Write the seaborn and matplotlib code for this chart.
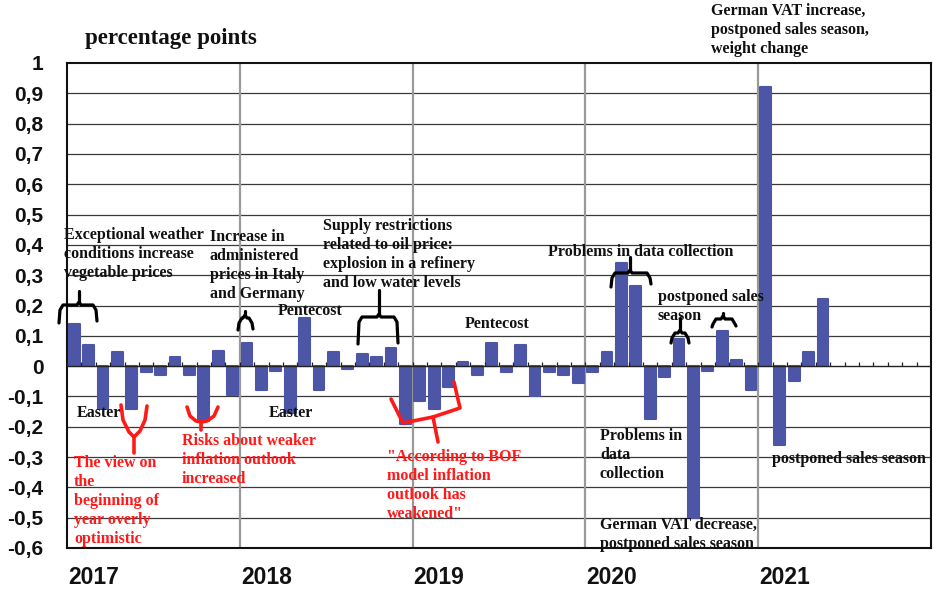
import numpy as np
import pandas as pd
import matplotlib
matplotlib.use("Agg")
import matplotlib.pyplot as plt
from matplotlib.lines import Line2D
import seaborn as sns

# ---------------- data ----------------
years = ["2017", "2018", "2019", "2020", "2021"]
values_2017 = [0.14, 0.07, -0.14, 0.045, -0.14, -0.02, -0.03, 0.03, -0.03, -0.18, 0.05, -0.095]
values_2018 = [0.075, -0.08, -0.015, -0.155, 0.16, -0.08, 0.045, -0.01, 0.04, 0.03, 0.06, -0.19]
values_2019 = [-0.115, -0.14, -0.07, 0.015, -0.03, 0.075, -0.02, 0.07, -0.10, -0.02, -0.03, -0.055]
values_2020 = [-0.02, 0.045, 0.34, 0.265, -0.175, -0.035, 0.09, -0.50, -0.015, 0.115, 0.02, -0.08]
values_2021 = [0.92, -0.26, -0.05, 0.045, 0.22]
y_ticks = [1, 0.9, 0.8, 0.7, 0.6, 0.5, 0.4, 0.3, 0.2, 0.1, 0, -0.1, -0.2, -0.3, -0.4, -0.5, -0.6]
y_tick_labels = ["1", "0,9", "0,8", "0,7", "0,6", "0,5", "0,4", "0,3", "0,2", "0,1", "0",
                 "-0,1", "-0,2", "-0,3", "-0,4", "-0,5", "-0,6"]

values = values_2017 + values_2018 + values_2019 + values_2020 + values_2021
months = [f"{y}-{m:02d}" for y in years for m in range(1, 13)][:len(values)]
df = pd.DataFrame({"month": months, "value": values})
n_slots = 12 * len(years)

# ---------------- figure ----------------
sns.set_theme(style="white")
plt.rcParams["font.family"] = ["Liberation Sans", "DejaVu Sans"]

W, H = 933, 592
fig = plt.figure(figsize=(W / 100, H / 100), dpi=100)
L, R, T, B = 67, 931, 63, 548
ax = fig.add_axes([L / W, 1 - B / H, (R - L) / W, (B - T) / H])

bar_color = "#4C55A6"
sns.barplot(data=df, x="month", y="value", order=months, color=bar_color,
            width=0.76, saturation=1, ax=ax, zorder=3)
for p in ax.patches:
    p.set_edgecolor(bar_color)
    p.set_linewidth(1.5)
    p.set_joinstyle("round")

ax.set_xlim(-0.5, n_slots - 0.5)
ax.set_ylim(-0.6, 1.0)

# horizontal grid
for v in y_ticks:
    if v not in (1, -0.6, 0):
        ax.axhline(v, color="#3a3a3a", lw=0.9, zorder=1)
# vertical year separators
for k in range(1, len(years)):
    ax.axvline(12 * k - 0.5, color="#9a9a9a", lw=1.6, zorder=1)
# zero line with month ticks
ax.axhline(0, color="#222222", lw=1.0, zorder=4)
ax.vlines(np.arange(n_slots + 1) - 0.5, 0, 0.013, color="#222222", lw=0.9, zorder=4)

ax.set_yticks(y_ticks)
ax.set_yticklabels(y_tick_labels, fontsize=15, fontweight="bold", color="#111111")
ax.tick_params(axis="y", length=0, pad=17)
ax.set_xticks([])
ax.set_xlabel("")
ax.set_ylabel("")
for s in ax.spines.values():
    s.set_visible(True)
    s.set_color("#111111")
    s.set_linewidth(1.5)

# helpers for annotation placement in reference pixel coordinates
def ptext(x, y, s, color="#111111", size=11.5, weight="bold", va="top", ha="left", family=None):
    fam = family or ["Liberation Serif", "DejaVu Serif"]
    fig.text(x / W, 1 - y / H, s, color=color, fontsize=size, fontweight=weight,
             va=va, ha=ha, family=fam, linespacing=1.24)

def pline(pts, color="black", lw=2.3):
    xs = [p[0] / W for p in pts]
    ys = [1 - p[1] / H for p in pts]
    fig.add_artist(Line2D(xs, ys, color=color, lw=lw, transform=fig.transFigure,
                          solid_capstyle="round", solid_joinstyle="round", zorder=10))

def brace(x0, x1, yline, yl, yr, xn, yn, color="black", lw=2.3):
    pts = [(x0, yl), (x0 + 1, yline + 5), (x0 + 4, yline), (xn - 2, yline),
           (xn, yline - 3), (xn + 2, yline), (x1 - 4, yline), (x1 - 1, yline + 5), (x1, yr)]
    pline(pts, color, lw)
    pline([(xn, yline - 3), (xn, yn)], color, lw)

# year labels
for k, yr in enumerate(years):
    xp = L + k * (R - L) / len(years) + 1
    fig.text(xp / W, 1 - 577 / H, yr, fontsize=16.5, fontweight="bold",
             va="center", ha="left", color="#111111")

# title
ptext(85, 28, "percentage points", size=16.5)

# black annotations
ptext(64, 227, "Exceptional weather\nconditions increase\nvegetable prices")
ptext(210, 229, "Increase in\nadministered\nprices in Italy\nand Germany", weight="semibold")
ptext(278, 303, "Pentecost")
ptext(77, 405, "Easter")
ptext(269, 405, "Easter")
ptext(323, 218, "Supply restrictions\nrelated to oil price:\nexplosion in a refinery\nand low water levels")
ptext(465, 316, "Pentecost")
ptext(548, 244, "Problems in data collection")
ptext(658, 289, "postponed sales\nseason")
ptext(711, 3, "German VAT increase,\npostponed sales season,\nweight change")
ptext(600, 428, "Problems in\ndata\ncollection")
ptext(600, 517, "German VAT decrease,\npostponed sales season")
ptext(772, 451, "postponed sales season")

# red annotations
red = "#FF1A1A"
ptext(74, 455, "The view on\nthe\nbeginning of\nyear overly\noptimistic", color=red)
ptext(182, 433, "Risks about weaker\ninflation outlook\nincreased", color=red)
ptext(387, 449, "\"According to BOF\nmodel inflation\noutlook has\nweakened\"", color=red)

# black braces
brace(59, 97, 305, 323, 321, 79, 291)
brace(238, 253, 318, 330, 329, 245, 311)
brace(358, 398, 317, 344, 343, 379, 290)
brace(611, 651, 273, 287, 284, 630, 257)
brace(671, 689, 333, 343, 343, 680, 318)
brace(712, 736, 319, 327, 326, 723, 313)

# red braces
pline([(121, 405), (123, 420), (129, 432), (134, 437), (140, 431), (145, 420), (147, 406)], red, 2.6)
pline([(134, 437), (134, 453)], red, 2.6)
pline([(187, 407), (190, 416), (196, 421), (201, 422), (207, 421), (214, 416), (218, 407)], red, 2.6)
pline([(201, 422), (201, 430)], red, 2.6)
pline([(391, 399), (403, 423), (433, 417), (460, 408), (454, 382)], red, 2.6)
pline([(433, 417), (438, 442)], red, 2.6)

fig.savefig("out.png", dpi=100)
